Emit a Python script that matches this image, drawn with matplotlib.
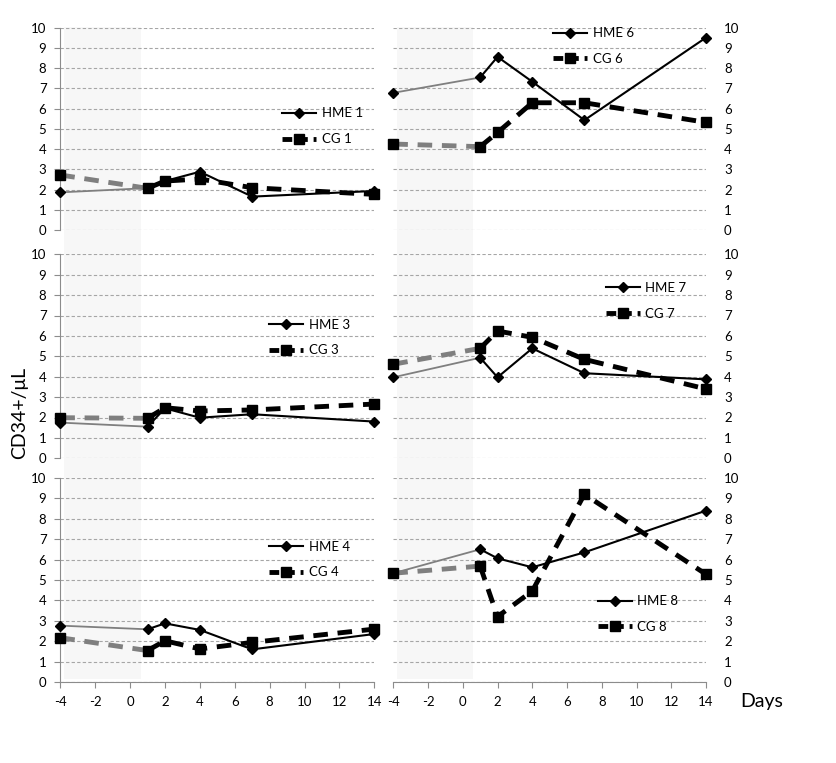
import numpy as np
import matplotlib
matplotlib.use('Agg')
import matplotlib.pyplot as plt
import matplotlib.transforms as mtransforms
from matplotlib.lines import Line2D
from matplotlib.patches import Rectangle

plt.rcParams['font.family'] = ['Lato', 'DejaVu Sans']
plt.rcParams['axes.unicode_minus'] = False

# sampling days
days = [-4, 1, 2, 4, 7, 14]

# CD34+ counts
hme1 = [1.86, 2.07, 2.42, 2.88, 1.65, 1.93]
cg1 = [2.72, 2.06, 2.42, 2.52, 2.09, 1.76]
hme6 = [6.78, 7.54, 8.56, 7.33, 5.43, 9.51]
cg6 = [4.25, 4.12, 4.82, 6.29, 6.29, 5.32]
hme3 = [1.75, 1.55, 2.45, 1.99, 2.16, 1.80]
cg3 = [1.99, 1.96, 2.48, 2.32, 2.37, 2.66]
hme7 = [3.97, 4.93, 3.97, 5.39, 4.17, 3.87]
cg7 = [4.61, 5.39, 6.24, 5.93, 4.85, 3.40]
hme4 = [2.77, 2.59, 2.88, 2.56, 1.61, 2.36]
cg4 = [2.18, 1.55, 2.03, 1.63, 1.95, 2.60]
hme8 = [5.33, 6.50, 6.06, 5.62, 6.35, 8.39]
cg8 = [5.33, 5.68, 3.21, 4.46, 9.19, 5.28]

panel_ids = [1, 6, 3, 7, 4, 8]
hme_series = [hme1, hme6, hme3, hme7, hme4, hme8]
cg_series = [cg1, cg6, cg3, cg7, cg4, cg8]

# legend anchors (data coords of the first legend row)
legend_pos = [(8.71, 5.78), (5.19, 9.75), (7.97, 6.58),
              (8.23, 8.38), (7.97, 6.66), (7.77, 3.99)]

W, H = 836, 763
fig = plt.figure(figsize=(W / 100, H / 100), dpi=100)

col_x = [(60.3, 374.3), (393.3, 706.0)]
row_y = [(27.7, 230.0), (254.3, 458.3), (477.7, 682.3)]

grey = '#7f7f7f'
gridc = '#a6a6a6'
axc = '#8c8c8c'

axes = []
for r in range(3):
    for c in range(2):
        x0, x1 = col_x[c]
        y0, y1 = row_y[r]
        ax = fig.add_axes([x0 / W, 1 - y1 / H, (x1 - x0) / W, (y1 - y0) / H])
        ax.set_facecolor('none')
        axes.append((ax, r, c))

for i, (ax, r, c) in enumerate(axes):
    hme = hme_series[i]
    cg = cg_series[i]
    n = panel_ids[i]

    ax.set_xlim(-4, 14)
    ax.set_ylim(0, 10)
    ax.set_yticks(np.arange(0, 11, 1))
    ax.set_xticks(np.arange(-4, 15, 2))
    ax.yaxis.grid(True, color=gridc, linestyle=(0, (3, 2)), linewidth=0.8)
    ax.set_axisbelow(True)

    for s in ['top', 'right']:
        ax.spines[s].set_visible(False)
    if c == 0:
        ax.spines['left'].set_color(axc)
        ax.tick_params(axis='y', length=4, color=axc, pad=6, labelsize=9.5)
    else:
        ax.spines['left'].set_visible(False)
        ax.yaxis.tick_right()
        ax.tick_params(axis='y', length=0, pad=13, labelsize=9.5)
        for lab in ax.get_yticklabels():
            lab.set_horizontalalignment('left')
    if r == 2:
        ax.spines['bottom'].set_color(axc)
        ax.tick_params(axis='x', length=4, color=axc, pad=6, labelsize=9.5)
    else:
        ax.spines['bottom'].set_visible(False)
        ax.tick_params(axis='x', length=0, labelbottom=False)

    # pre-treatment segment in grey, rest in black
    ax.plot(days[:2], cg[:2], color=grey, lw=3.5, linestyle=(0, (3, 2)),
            zorder=3, clip_on=False)
    ax.plot(days[:2], hme[:2], color=grey, lw=1.3, zorder=3, clip_on=False)
    ax.plot(days[1:], cg[1:], color='black', lw=3.5, linestyle=(0, (3, 2)),
            zorder=4, clip_on=False)
    ax.plot(days[1:], hme[1:], color='black', lw=1.5, zorder=5, clip_on=False)
    ax.plot(days, cg, linestyle='none', marker='s', ms=7.5, color='black',
            zorder=6, clip_on=False)
    ax.plot(days, hme, linestyle='none', marker='D', ms=5.5, color='black',
            zorder=7, clip_on=False)

    handles = [Line2D([], [], color='black', lw=1.5, marker='D', ms=5.5),
               Line2D([], [], color='black', lw=3.5, linestyle=(0, (2, 1.2)),
                      marker='s', ms=7.5)]
    lx, ly = legend_pos[i]
    ax.legend(handles, ['HME %d' % n, 'CG %d' % n], loc='center left',
              bbox_to_anchor=(lx, ly - 0.66), bbox_transform=ax.transData,
              frameon=False, fontsize=9.5, borderpad=0, borderaxespad=0,
              handlelength=2.6, handletextpad=0.4, labelspacing=1.05)

# shaded pre-treatment column spanning all rows
for c in range(2):
    ax = axes[c][0]
    trans = mtransforms.blended_transform_factory(ax.transData, fig.transFigure)
    y_lo = 1 - 679 / H
    y_hi = 1 - 27 / H
    fig.add_artist(Rectangle((-3.8, y_lo), 4.4, y_hi - y_lo, transform=trans,
                             facecolor='#f7f7f7', edgecolor='none', zorder=-1))

fig.text(20 / W, 1 - 413 / H, 'CD34+/\u03bcL', rotation=90, ha='center',
         va='center', fontsize=14)
fig.text(740 / W, 1 - 702 / H, 'Days', ha='left', va='center', fontsize=14)

fig.savefig('out.png', dpi=100, facecolor='white')
